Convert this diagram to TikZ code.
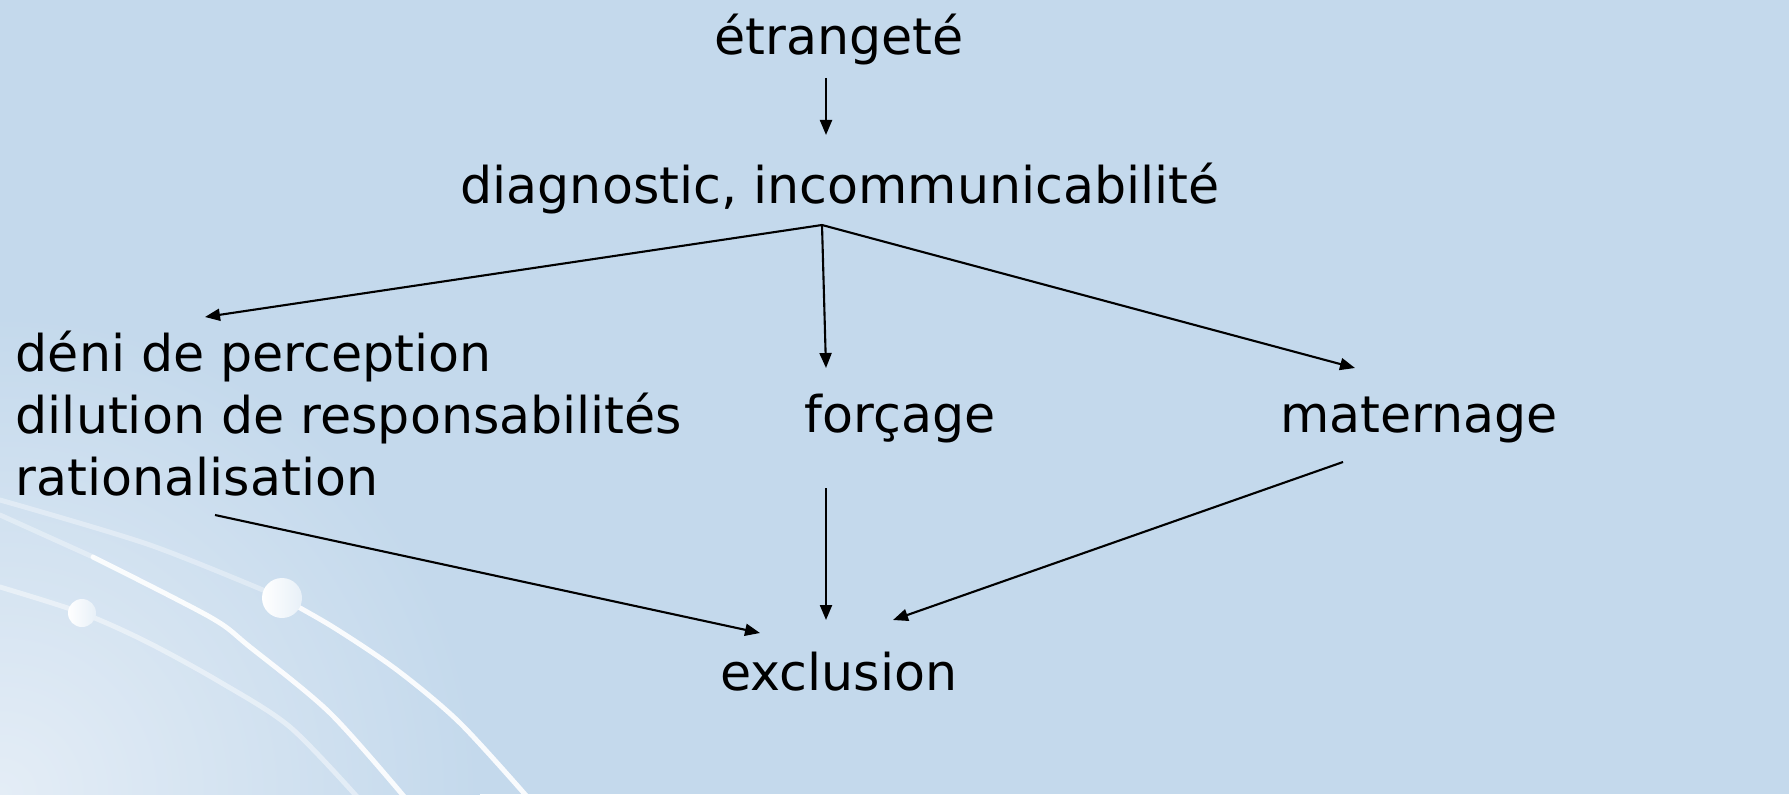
\documentclass[tikz,border=0pt]{standalone}
\usepackage{fontspec}
\setmainfont{DejaVu Sans}
\usetikzlibrary{arrows.meta}
\definecolor{slidebg}{HTML}{C4D9EC}
\definecolor{slidelight}{HTML}{E4EDF6}
\begin{document}
\begin{tikzpicture}[
    x=0.01cm, y=-0.01cm,
    lbl/.style={inner sep=0pt, font=\fontsize{14.4}{17.6}\selectfont},
    arr/.style={-{Triangle[length=0.15cm, width=0.12cm]}, line width=0.6pt},
    swirl/.style={white, line width=1.4pt, line cap=round}
  ]
    % background
    \useasboundingbox (0,0) rectangle (1789,794);
    \fill[slidebg] (0,0) rectangle (1789,794);
    \begin{scope}
      \clip (0,0) rectangle (1789,794);
      \shade[inner color=slidelight, outer color=slidebg] (0,794) circle (480);
      \draw[swirl, opacity=0.45] plot[smooth] coordinates
        {(0,587) (82,613) (147,642) (220,682) (290,727) (360,800)};
      \draw[swirl, opacity=0.35] plot[smooth] coordinates
        {(0,515) (93,557)};
      \draw[swirl, opacity=0.9] plot[smooth] coordinates
        {(93,557) (210,617) (250,647) (330,713) (407,800)};
      \draw[swirl, opacity=0.35] plot[smooth] coordinates
        {(0,500) (150,545) (282,598)};
      \draw[swirl, opacity=0.9] plot[smooth] coordinates
        {(282,598) (333,627) (397,670) (460,723) (530,800)};
      \shade[left color=white, right color=slidebg!40!white] (82,613) circle (14);
      \shade[left color=white, right color=slidebg!40!white] (282,598) circle (20);
    \end{scope}

    \node[lbl, anchor=base] (etr)  at (839,55)  {étrangeté};
    \node[lbl, anchor=base] (diag) at (840,203) {diagnostic, incommunicabilité};
    \node[lbl, anchor=base west, align=left] (deni) at (15,495)
      {déni de perception\\dilution de responsabilités\\rationalisation};
    \node[lbl, anchor=base] (forc) at (900,432)  {forçage};
    \node[lbl, anchor=base] (mat)  at (1419,432) {maternage};
    \node[lbl, anchor=base] (excl) at (839,690)  {exclusion};

    \coordinate (etrOut)  at (826,78);
    \coordinate (diagIn)  at (826,135);
    \coordinate (diagOut) at (822,225);
    \coordinate (deniIn)  at (205,317);
    \coordinate (forcIn)  at (826,368);
    \coordinate (matIn)   at (1355,368);
    \coordinate (deniOut) at (215,515);
    \coordinate (forcOut) at (826,488);
    \coordinate (matOut)  at (1343,462);
    \coordinate (exclL)   at (760,633);
    \coordinate (exclM)   at (826,620);
    \coordinate (exclR)   at (893,620);

    \draw[arr] (etrOut)  -- (diagIn);
    \draw[arr] (diagOut) -- (deniIn);
    \draw[arr] (diagOut) -- (forcIn);
    \draw[arr] (diagOut) -- (matIn);
    \draw[arr] (deniOut) -- (exclL);
    \draw[arr] (forcOut) -- (exclM);
    \draw[arr] (matOut)  -- (exclR);
\end{tikzpicture}
\end{document}
